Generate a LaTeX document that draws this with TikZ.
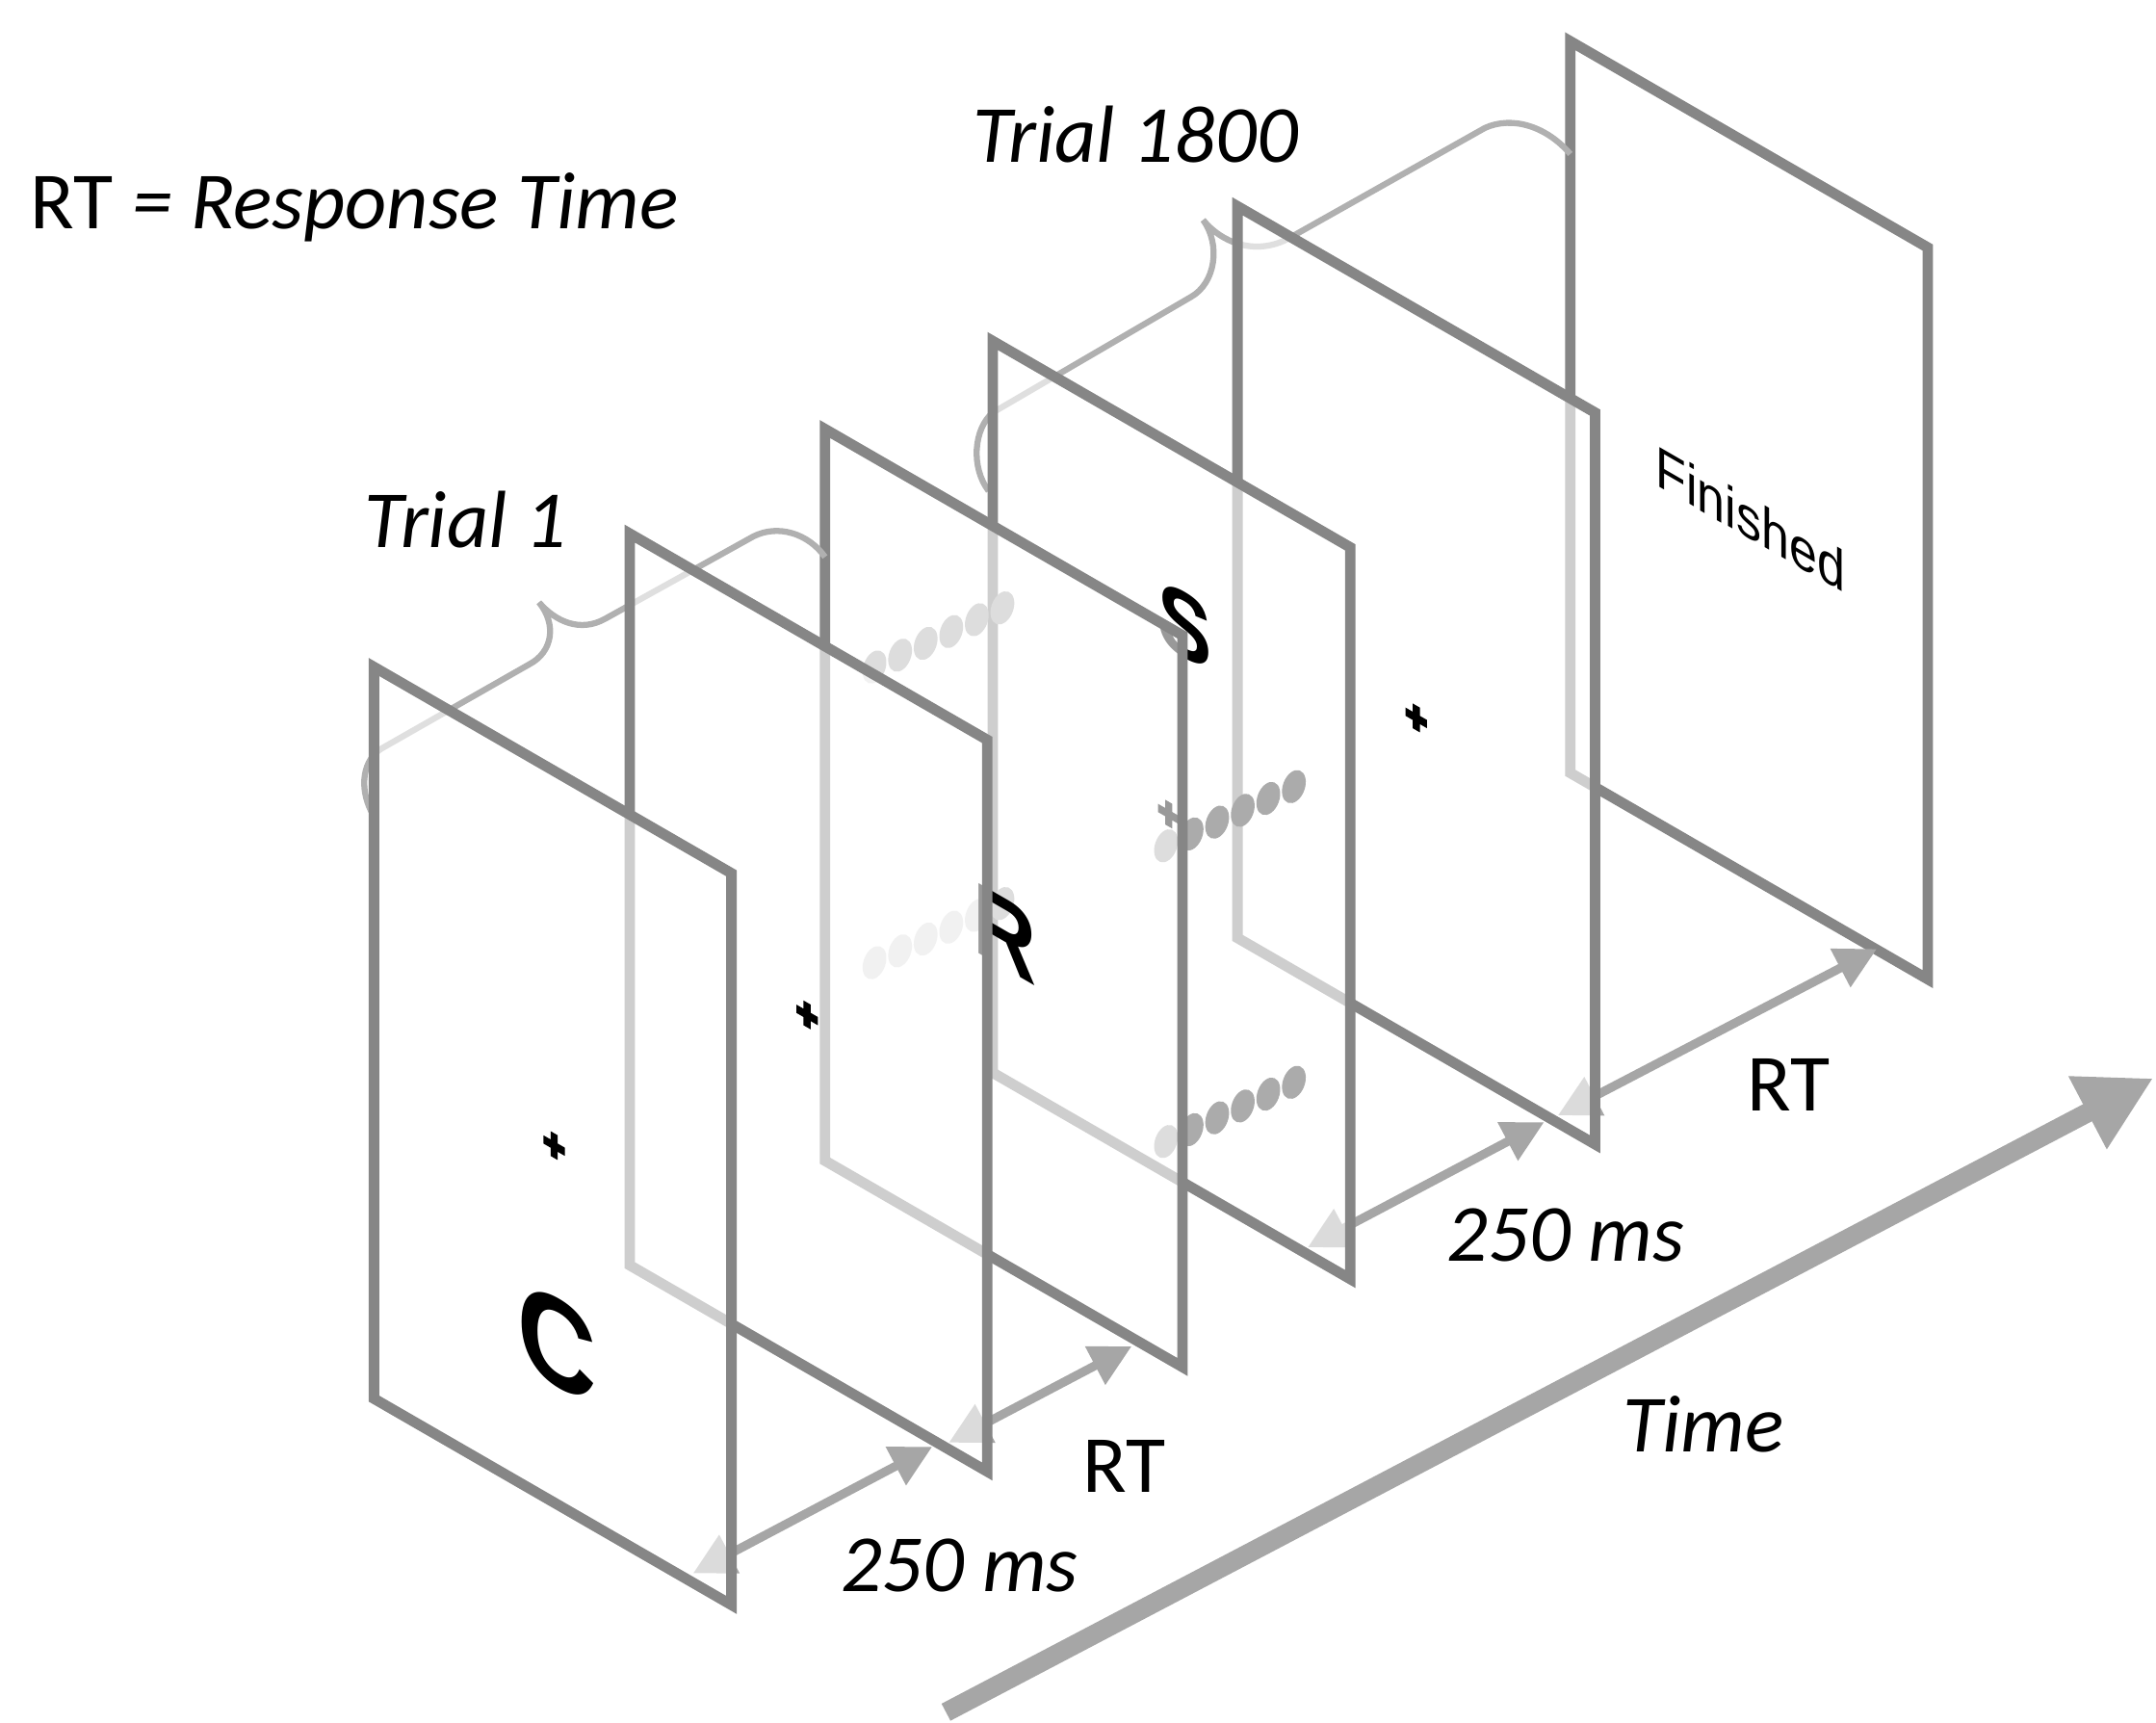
\documentclass[tikz,border=0pt]{standalone}
\usepackage{fontspec}
\setmainfont{Carlito}
\newfontfamily\arialf{Liberation Sans}
\usetikzlibrary{arrows.meta}
\definecolor{edge}{HTML}{868686}
\definecolor{arrowc}{HTML}{A6A6A6}
\definecolor{bracec}{HTML}{B0B0B0}
\definecolor{dotc}{HTML}{ABABAB}
\newcommand\panelat[2]{(#1,#2) -- ++(260,150) -- ++(0,532) -- ++(-260,-150) -- cycle}
\newcommand\dotrow[2]{\foreach \k in {0,...,5}{\pgfmathsetmacro\dx{#1+18.6*\k}\pgfmathsetmacro\dy{#2-8.6*\k}\fill[dotc, rotate around={-20:(\dx,\dy)}] (\dx,\dy) ellipse [x radius=8, y radius=12.5];}}
\begin{document}
\begin{tikzpicture}[x=0.5pt,y=-0.5pt,
  panel/.style={draw=edge, line width=3.8pt, fill=white, fill opacity=0.6},
  brace/.style={draw=bracec, line width=2.2pt},
  tarrow/.style={draw=arrowc, line width=3.2pt, <->, >={Triangle[length=15pt,width=15pt]}},
  lbl/.style={inner sep=0, anchor=base west, font=\fontsize{29.5}{35}\selectfont},
  onplane/.style={transform shape, cm={0.866,-0.5,0,1,(0,0)}, inner sep=0},
  glyph/.style={onplane, font=\arialf\bfseries\fontsize{#1}{#1}\selectfont},
  fixpic/.pic={\fill[black] (-9,-3) -- (-3,-3) -- (-3,-9) -- (3,-9) -- (3,-3) -- (9,-3) -- (9,3) -- (3,3) -- (3,9) -- (-3,9) -- (-3,3) -- (-9,3) -- cycle;},
]
\useasboundingbox (0,0) rectangle (1568,1252.8);

% panel 6
\path[panel] \panelat{1142}{30};
\node[onplane, font=\arialf\fontsize{21}{24}\selectfont] (fin) at (1273,377) {Finished};
% brace 2
\draw[brace] (719,357) .. controls (706,340) and (708,312) .. (722,300) -- (866,216) .. controls (884,206) and (888,178) .. (875,160) .. controls (888,176) and (912,186) .. (936,174) -- (1080,93) .. controls (1100,84) and (1125,92) .. (1142,112);
% arrow 4
\coordinate (a4s) at (1133,811); \coordinate (a4e) at (1365,690);
\draw[tarrow] (a4s) -- (a4e);
% panel 5
\path[panel] \panelat{900}{150};
\pic[cm={0.866,-0.5,0,1,(0,0)}] (fix5) at (1030,522) {fixpic};
% arrow 3
\coordinate (a3s) at (951,907); \coordinate (a3e) at (1123,816);
\draw[tarrow] (a3s) -- (a3e);
% panel 4
\path[panel] \panelat{722}{248};
\node[glyph=34] (S) at (862,455) {S};
\pic[cm={0.866,-0.5,0,1,(0,0)}] (fix4) at (850,592) {fixpic};
% dots
\dotrow{636}{485}
\dotrow{636}{700}
\dotrow{848}{615}
\dotrow{848}{830}
% panel 3
\path[panel] \panelat{600}{312};
\node[glyph=37] (R) at (731,679) {R};
% brace 1
\draw[brace] (270,590) .. controls (261,572) and (264,552) .. (278,544) -- (385,483) .. controls (402,474) and (405,454) .. (392,438) .. controls (404,452) and (422,460) .. (440,450) -- (548,390) .. controls (566,381) and (588,388) .. (600,405);
% arrow 2
\coordinate (a2s) at (690,1049); \coordinate (a2e) at (823,979);
\draw[tarrow] (a2s) -- (a2e);
% panel 2
\path[panel] \panelat{458}{388};
\pic[cm={0.866,-0.5,0,1,(0,0)}] (fix2) at (587,738) {fixpic};
% arrow 1
\coordinate (a1s) at (504,1144); \coordinate (a1e) at (678,1052);
\draw[tarrow] (a1s) -- (a1e);
% panel 1
\path[panel] \panelat{272}{485};
\pic[cm={0.866,-0.5,0,1,(0,0)}] (fix1) at (403,833) {fixpic};
\node[glyph=46] (C) at (405,976) {C};
% time arrow
\coordinate (ts) at (688,1245); \coordinate (te) at (1566,784);
\draw[arrowc, line width=7pt, -{Triangle[length=27pt,width=28pt]}] (ts) -- (te);
% labels
\node[lbl] (legend) at (22,166) {RT \textit{= Response Time}};
\node[lbl] (t1) at (265,398) {\textit{Trial 1}};
\node[lbl] (t1800) at (707,118) {\textit{Trial 1800}};
\node[lbl] (rt1) at (787,1085) {RT};
\node[lbl] (ms1) at (611,1157) {\textit{250 ms}};
\node[lbl] (ms2) at (1052,917) {\textit{250 ms}};
\node[lbl] (rt2) at (1270,808) {RT};
\node[lbl] (time) at (1180,1056) {\textit{Time}};
\end{tikzpicture}
\end{document}
